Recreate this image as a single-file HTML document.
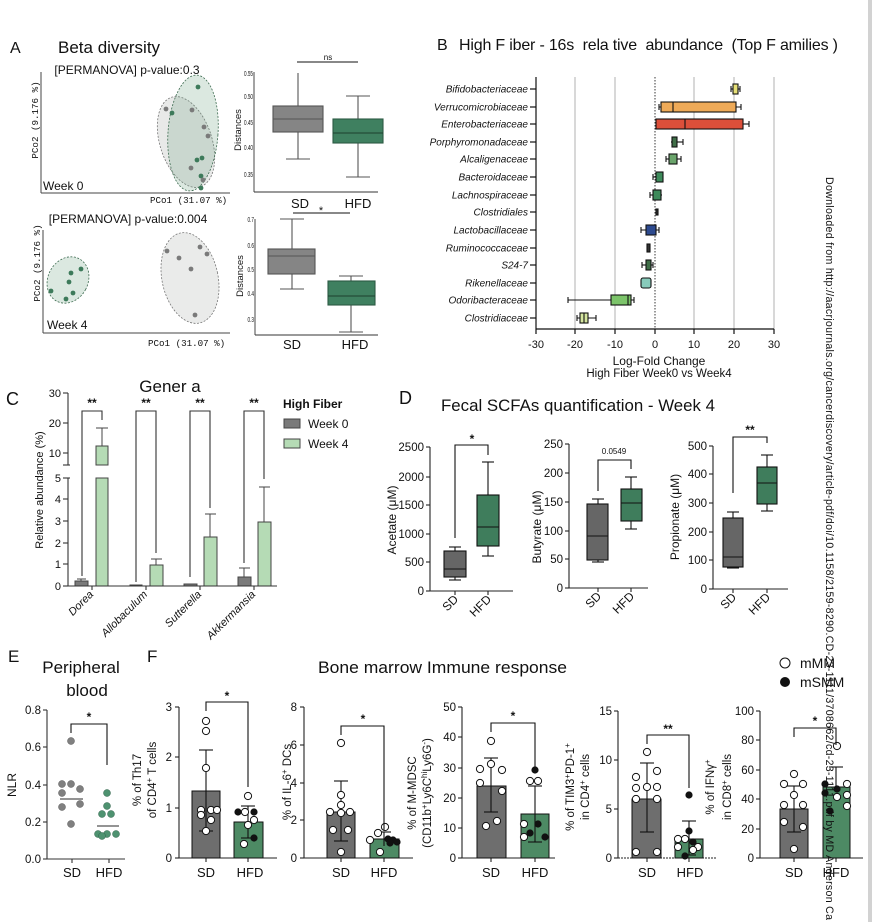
<!DOCTYPE html>
<html><head><meta charset="utf-8">
<style>
html,body{margin:0;padding:0;background:#fff;overflow:hidden;width:872px;height:922px;}
svg{display:block;}
text{font-family:"Liberation Sans",Arial,sans-serif;fill:#111;}
.mono{font-family:"Liberation Mono",monospace;}
</style></head>
<body>
<svg width="872" height="922" viewBox="0 0 872 922" xmlns="http://www.w3.org/2000/svg">
<rect width="872" height="922" fill="#fff"/>
<rect x="868" y="0" width="4" height="922" fill="#d2d2d2"/>

<!-- ===== Panel A ===== -->
<text x="10" y="53" font-size="16">A</text>
<text x="58" y="53" font-size="17">Beta diversity</text>
<text x="127" y="74" font-size="12" text-anchor="middle">[PERMANOVA] p-value:0.3</text>
<g stroke="#444" stroke-width="1">
<line x1="41" y1="72" x2="41" y2="193"/><line x1="41" y1="193" x2="230" y2="193"/>
</g>
<text class="mono" font-size="9.2" transform="translate(38,120) rotate(-90)" text-anchor="middle">PCo2 (9.176 %)</text>
<text x="43" y="190" font-size="12">Week 0</text>
<text class="mono" x="150" y="203" font-size="9.2">PCo1 (31.07 %)</text>
<ellipse cx="186" cy="142" rx="26" ry="47" transform="rotate(-18 186 142)" fill="rgba(150,155,150,0.22)" stroke="#777" stroke-dasharray="2,1.5" stroke-width="0.8"/>
<ellipse cx="193" cy="133" rx="25" ry="58" transform="rotate(4 193 133)" fill="rgba(110,165,130,0.25)" stroke="#3d6b50" stroke-dasharray="2,1.5" stroke-width="0.8"/>
<g fill="#3d7a5a"><circle cx="198" cy="87" r="2.4"/><circle cx="172" cy="113" r="2.4"/><circle cx="197" cy="160" r="2.4"/><circle cx="202" cy="158" r="2.4"/><circle cx="201" cy="176" r="2.4"/><circle cx="201" cy="188" r="2.4"/></g>
<g fill="#7a7a7a"><circle cx="166" cy="109" r="2.4"/><circle cx="192" cy="110" r="2.4"/><circle cx="204" cy="127" r="2.4"/><circle cx="208" cy="136" r="2.4"/><circle cx="191" cy="168" r="2.4"/><circle cx="203" cy="180" r="2.4"/></g>

<text x="128" y="223" font-size="12" text-anchor="middle">[PERMANOVA] p-value:0.004</text>
<g stroke="#444" stroke-width="1">
<line x1="43" y1="230" x2="43" y2="333"/><line x1="43" y1="333" x2="230" y2="333"/>
</g>
<text class="mono" font-size="9.2" transform="translate(40,263) rotate(-90)" text-anchor="middle">PCo2 (9.176 %)</text>
<text x="47" y="329" font-size="12">Week 4</text>
<text class="mono" x="148" y="346" font-size="9.2">PCo1 (31.07 %)</text>
<ellipse cx="68" cy="280" rx="20" ry="24" transform="rotate(28 68 280)" fill="rgba(110,165,130,0.25)" stroke="#3d6b50" stroke-dasharray="2,1.5" stroke-width="0.8"/>
<ellipse cx="190" cy="278" rx="28" ry="46" transform="rotate(-12 190 278)" fill="rgba(150,155,150,0.2)" stroke="#777" stroke-dasharray="2,1.5" stroke-width="0.8"/>
<g fill="#3d7a5a"><circle cx="81" cy="269" r="2.4"/><circle cx="71" cy="273" r="2.4"/><circle cx="69" cy="282" r="2.4"/><circle cx="51" cy="291" r="2.4"/><circle cx="73" cy="293" r="2.4"/><circle cx="66" cy="299" r="2.4"/></g>
<g fill="#7a7a7a"><circle cx="167" cy="251" r="2.4"/><circle cx="179" cy="258" r="2.4"/><circle cx="200" cy="247" r="2.4"/><circle cx="207" cy="254" r="2.4"/><circle cx="191" cy="269" r="2.4"/><circle cx="195" cy="315" r="2.4"/></g>

<!-- A boxplot top -->
<g stroke="#333" stroke-width="0.9"><line x1="254" y1="72" x2="254" y2="192"/><line x1="254" y1="192" x2="378" y2="192"/></g>
<g font-size="7" text-anchor="end"><text x="253" y="76" textLength="9" lengthAdjust="spacingAndGlyphs">0.55</text><text x="253" y="99" textLength="9" lengthAdjust="spacingAndGlyphs">0.50</text><text x="253" y="125" textLength="9" lengthAdjust="spacingAndGlyphs">0.45</text><text x="253" y="150" textLength="9" lengthAdjust="spacingAndGlyphs">0.40</text><text x="253" y="177" textLength="9" lengthAdjust="spacingAndGlyphs">0.35</text></g>
<text font-size="9.5" transform="translate(241,130) rotate(-90)" text-anchor="middle">Distances</text>
<g stroke="#555" stroke-width="1.1">
<line x1="298" y1="73" x2="298" y2="106"/><line x1="298" y1="132" x2="298" y2="159"/>
<line x1="286" y1="159" x2="310" y2="159"/>
<rect x="273" y="106" width="50" height="26" fill="#858585"/>
<line x1="273" y1="119" x2="323" y2="119"/>
<line x1="358" y1="96" x2="358" y2="119"/><line x1="358" y1="143" x2="358" y2="177"/>
<line x1="346" y1="96" x2="370" y2="96"/><line x1="346" y1="177" x2="370" y2="177"/>
<rect x="333" y="119" width="50" height="24" fill="#3f8060" stroke="#2d5a44"/>
<line x1="333" y1="133" x2="383" y2="133" stroke="#1e3f2e"/>
</g>
<line x1="297" y1="62" x2="358" y2="62" stroke="#111" stroke-width="0.9"/>
<text x="328" y="60" font-size="8" text-anchor="middle">ns</text>
<text x="300" y="208" font-size="13" text-anchor="middle">SD</text>
<text x="358" y="208" font-size="13" text-anchor="middle">HFD</text>

<!-- A boxplot bottom -->
<g stroke="#333" stroke-width="0.9"><line x1="255" y1="219" x2="255" y2="335"/><line x1="255" y1="335" x2="378" y2="335"/></g>
<g font-size="7" text-anchor="end"><text x="254" y="222" textLength="6.5" lengthAdjust="spacingAndGlyphs">0.7</text><text x="254" y="248" textLength="6.5" lengthAdjust="spacingAndGlyphs">0.6</text><text x="254" y="272" textLength="6.5" lengthAdjust="spacingAndGlyphs">0.5</text><text x="254" y="296" textLength="6.5" lengthAdjust="spacingAndGlyphs">0.4</text><text x="254" y="322" textLength="6.5" lengthAdjust="spacingAndGlyphs">0.3</text></g>
<text font-size="9.5" transform="translate(243,276) rotate(-90)" text-anchor="middle">Distances</text>
<g stroke="#555" stroke-width="1.1">
<line x1="292" y1="219" x2="292" y2="249"/><line x1="292" y1="274" x2="292" y2="289"/>
<line x1="280" y1="219" x2="304" y2="219"/><line x1="280" y1="289" x2="304" y2="289"/>
<rect x="268" y="249" width="47" height="25" fill="#858585"/>
<line x1="268" y1="256" x2="315" y2="256"/>
<line x1="351" y1="276" x2="351" y2="281"/><line x1="351" y1="305" x2="351" y2="332"/>
<line x1="339" y1="276" x2="363" y2="276"/><line x1="339" y1="332" x2="363" y2="332"/>
<rect x="328" y="281" width="47" height="24" fill="#3f8060" stroke="#2d5a44"/>
<line x1="328" y1="296" x2="375" y2="296" stroke="#1e3f2e"/>
</g>
<line x1="293" y1="213" x2="350" y2="213" stroke="#111" stroke-width="0.9"/>
<text x="321" y="214" font-size="11" text-anchor="middle">*</text>
<text x="292" y="349" font-size="13" text-anchor="middle">SD</text>
<text x="355" y="349" font-size="13" text-anchor="middle">HFD</text>

<!-- ===== Panel B ===== -->
<text x="437" y="50" font-size="16">B</text>
<text x="459" y="50" font-size="16" textLength="379" lengthAdjust="spacing" xml:space="preserve">High F iber - 16s  rela tive  abundance  (Top F amilies )</text>
<g stroke="#b0b0b0" stroke-width="1">
<line x1="575" y1="77" x2="575" y2="329"/><line x1="615" y1="77" x2="615" y2="329"/>
<line x1="694" y1="77" x2="694" y2="329"/><line x1="734" y1="77" x2="734" y2="329"/>
<line x1="774" y1="77" x2="774" y2="329"/>
</g>
<line x1="655" y1="77" x2="655" y2="329" stroke="#222" stroke-width="0.9" stroke-dasharray="1.5,1.5"/>
<g stroke="#111" stroke-width="1.2">
<line x1="536" y1="77" x2="536" y2="329"/><line x1="536" y1="329" x2="774" y2="329"/>
<line x1="536" y1="329" x2="536" y2="334"/><line x1="575" y1="329" x2="575" y2="334"/><line x1="615" y1="329" x2="615" y2="334"/><line x1="655" y1="329" x2="655" y2="334"/><line x1="694" y1="329" x2="694" y2="334"/><line x1="734" y1="329" x2="734" y2="334"/><line x1="774" y1="329" x2="774" y2="334"/>
<line x1="530" y1="89" x2="536" y2="89"/><line x1="530" y1="107" x2="536" y2="107"/><line x1="530" y1="124" x2="536" y2="124"/><line x1="530" y1="142" x2="536" y2="142"/><line x1="530" y1="159" x2="536" y2="159"/><line x1="530" y1="177" x2="536" y2="177"/><line x1="530" y1="195" x2="536" y2="195"/><line x1="530" y1="212" x2="536" y2="212"/><line x1="530" y1="230" x2="536" y2="230"/><line x1="530" y1="248" x2="536" y2="248"/><line x1="530" y1="265" x2="536" y2="265"/><line x1="530" y1="283" x2="536" y2="283"/><line x1="530" y1="300" x2="536" y2="300"/><line x1="530" y1="318" x2="536" y2="318"/>
</g>
<g font-size="10" font-style="italic" text-anchor="end" fill="#222">
<text x="528" y="92.5">Bifidobacteriaceae</text><text x="528" y="110.5">Verrucomicrobiaceae</text><text x="528" y="127.5">Enterobacteriaceae</text><text x="528" y="145.5">Porphyromonadaceae</text><text x="528" y="162.5">Alcaligenaceae</text><text x="528" y="180.5">Bacteroidaceae</text><text x="528" y="198.5">Lachnospiraceae</text><text x="528" y="215.5">Clostridiales</text><text x="528" y="233.5">Lactobacillaceae</text><text x="528" y="251.5">Ruminococcaceae</text><text x="528" y="268.5">S24-7</text><text x="528" y="286.5">Rikenellaceae</text><text x="528" y="303.5">Odoribacteraceae</text><text x="528" y="321.5">Clostridiaceae</text>
</g>
<g stroke="#111" stroke-width="1.1">
<line x1="731" y1="89" x2="740" y2="89"/><line x1="731" y1="86" x2="731" y2="92"/><line x1="740" y1="86" x2="740" y2="92"/>
<rect x="733" y="84" width="5" height="10" fill="#e6df77"/>
<line x1="659" y1="107" x2="741" y2="107"/><line x1="659" y1="104" x2="659" y2="110"/><line x1="741" y1="104" x2="741" y2="110"/>
<rect x="661" y="102" width="75" height="10" fill="#eeaa58"/><line x1="673" y1="102" x2="673" y2="112"/>
<line x1="743" y1="124" x2="749" y2="124"/><line x1="749" y1="121" x2="749" y2="127"/>
<rect x="656" y="119" width="87" height="10" fill="#dc4f3a"/><line x1="685" y1="119" x2="685" y2="129"/>
<line x1="671" y1="142" x2="683" y2="142"/><line x1="683" y1="139" x2="683" y2="145"/>
<rect x="672" y="137" width="5" height="10" fill="#3f6e47"/>
<line x1="666" y1="159" x2="681" y2="159"/><line x1="666" y1="156" x2="666" y2="162"/><line x1="681" y1="156" x2="681" y2="162"/>
<rect x="669" y="154" width="8" height="10" fill="#6aa46b"/>
<line x1="653" y1="177" x2="663" y2="177"/><line x1="653" y1="174" x2="653" y2="180"/>
<rect x="656" y="172" width="7" height="10" fill="#3d8a5a"/>
<line x1="650" y1="195" x2="662" y2="195"/><line x1="650" y1="192" x2="650" y2="198"/>
<rect x="653" y="190" width="8" height="10" fill="#3d8a5a"/>
<rect x="656" y="209" width="2" height="6" fill="#333"/>
<line x1="641" y1="230" x2="659" y2="230"/><line x1="641" y1="227" x2="641" y2="233"/><line x1="659" y1="227" x2="659" y2="233"/>
<rect x="646" y="225" width="10" height="10" fill="#2d4a8f"/>
<rect x="647" y="244" width="3" height="8" fill="#333"/>
<line x1="642" y1="265" x2="653" y2="265"/><line x1="642" y1="262" x2="642" y2="268"/><line x1="653" y1="262" x2="653" y2="268"/>
<rect x="646" y="260" width="5" height="10" fill="#3f6e47"/>
<rect x="641" y="278" width="10" height="10" rx="2" fill="#88cbbb"/>
<line x1="568" y1="300" x2="634" y2="300"/><line x1="568" y1="297" x2="568" y2="303"/><line x1="634" y1="297" x2="634" y2="303"/>
<rect x="611" y="295" width="20" height="10" fill="#7cc46a"/><line x1="628" y1="295" x2="628" y2="305"/>
<line x1="577" y1="318" x2="596" y2="318"/><line x1="577" y1="315" x2="577" y2="321"/><line x1="596" y1="315" x2="596" y2="321"/>
<rect x="580" y="313" width="8" height="10" fill="#d5e6a0"/><line x1="584" y1="313" x2="584" y2="323"/>
</g>
<g font-size="11" text-anchor="middle" fill="#222">
<text x="536" y="348">-30</text><text x="575" y="348">-20</text><text x="615" y="348">-10</text><text x="655" y="348">0</text><text x="694" y="348">10</text><text x="734" y="348">20</text><text x="774" y="348">30</text>
</g>
<text x="659" y="365" font-size="12" text-anchor="middle">Log-Fold Change</text>
<text x="659" y="377" font-size="11.5" text-anchor="middle">High Fiber Week0 vs Week4</text>

<!-- ===== Panel C ===== -->
<text x="6" y="405" font-size="18">C</text>
<text x="170" y="392" font-size="17" text-anchor="middle" xml:space="preserve">Gener a</text>
<g stroke="#333" stroke-width="1.1">
<line x1="68" y1="393" x2="68" y2="465"/><line x1="68" y1="478" x2="68" y2="586"/>
<line x1="63" y1="393" x2="68" y2="393"/><line x1="63" y1="423" x2="68" y2="423"/><line x1="63" y1="453" x2="68" y2="453"/><line x1="63" y1="465" x2="70" y2="465"/>
<line x1="63" y1="478" x2="70" y2="478"/><line x1="63" y1="499" x2="68" y2="499"/><line x1="63" y1="521" x2="68" y2="521"/><line x1="63" y1="543" x2="68" y2="543"/><line x1="63" y1="564" x2="68" y2="564"/><line x1="63" y1="586" x2="68" y2="586"/>
</g>
<g font-size="11" text-anchor="end" fill="#222">
<text x="61" y="397">30</text><text x="61" y="427">20</text><text x="61" y="457">10</text><text x="61" y="482">5</text><text x="61" y="503">4</text><text x="61" y="525">3</text><text x="61" y="547">2</text><text x="61" y="568">1</text><text x="61" y="590">0</text>
</g>
<text font-size="11" transform="translate(43,490) rotate(-90)" text-anchor="middle">Relative abundance (%)</text>
<g stroke="#444" stroke-width="1">
<line x1="81" y1="579" x2="81" y2="582"/><line x1="77" y1="579" x2="86" y2="579"/>
<line x1="102" y1="428" x2="102" y2="446"/><line x1="96" y1="428" x2="108" y2="428"/>
<line x1="156" y1="559" x2="156" y2="565"/><line x1="151" y1="559" x2="162" y2="559"/>
<line x1="210" y1="514" x2="210" y2="537"/><line x1="205" y1="514" x2="216" y2="514"/>
<line x1="244" y1="568" x2="244" y2="577"/><line x1="239" y1="568" x2="250" y2="568"/>
<line x1="264" y1="487" x2="264" y2="522"/><line x1="259" y1="487" x2="270" y2="487"/>
</g>
<g stroke="#444" stroke-width="1">
<rect x="75" y="581" width="13" height="5" fill="#7a7a7a"/>
<rect x="96" y="478" width="12" height="108" fill="#b5dbb5"/>
<rect x="96" y="446" width="12" height="19" fill="#b5dbb5"/>
<rect x="130" y="585" width="12" height="1" fill="#7a7a7a"/>
<rect x="150" y="565" width="13" height="21" fill="#b5dbb5"/>
<rect x="184" y="584" width="13" height="2" fill="#7a7a7a"/>
<rect x="204" y="537" width="13" height="49" fill="#b5dbb5"/>
<rect x="238" y="577" width="13" height="9" fill="#7a7a7a"/>
<rect x="258" y="522" width="13" height="64" fill="#b5dbb5"/>
</g>
<g stroke="#333" stroke-width="1.1">
<line x1="68" y1="586" x2="277" y2="586"/>
<line x1="92" y1="586" x2="92" y2="590"/><line x1="146" y1="586" x2="146" y2="590"/><line x1="200" y1="586" x2="200" y2="590"/><line x1="254" y1="586" x2="254" y2="590"/>
</g>
<g stroke="#333" stroke-width="1.1" fill="none">
<polyline points="82,576 82,411 102,411 102,420"/>
<polyline points="136,582 136,411 156,411 156,553"/>
<polyline points="190,577 190,411 210,411 210,508"/>
<polyline points="244,563 244,411 264,411 264,479"/>
</g>
<g font-size="12" font-weight="bold" text-anchor="middle">
<text x="92" y="407">**</text><text x="146" y="407">**</text><text x="200" y="407">**</text><text x="254" y="407">**</text>
</g>
<g font-size="11" font-style="italic" text-anchor="end">
<text transform="translate(94,595) rotate(-45)">Dorea</text>
<text transform="translate(148,595) rotate(-45)">Allobaculum</text>
<text transform="translate(202,595) rotate(-45)">Sutterella</text>
<text transform="translate(256,595) rotate(-45)">Akkermansia</text>
</g>
<text x="283" y="408" font-size="12" font-weight="bold">High Fiber</text>
<rect x="284" y="419" width="16" height="9" fill="#7a7a7a" stroke="#444"/>
<text x="308" y="428" font-size="12">Week 0</text>
<rect x="284" y="439" width="16" height="9" fill="#b5dbb5" stroke="#444"/>
<text x="308" y="448" font-size="12">Week 4</text>

<!-- ===== Panel D ===== -->
<text x="399" y="404" font-size="18">D</text>
<text x="441" y="411" font-size="17" textLength="274" lengthAdjust="spacingAndGlyphs">Fecal SCFAs quantification - Week 4</text>
<g stroke="#222" stroke-width="1.1">
<line x1="430" y1="447" x2="430" y2="591"/><line x1="430" y1="591" x2="513" y2="591"/>
<line x1="426" y1="447" x2="430" y2="447"/><line x1="426" y1="477" x2="430" y2="477"/><line x1="426" y1="505" x2="430" y2="505"/><line x1="426" y1="534" x2="430" y2="534"/><line x1="426" y1="562" x2="430" y2="562"/><line x1="426" y1="591" x2="430" y2="591"/>
<line x1="455" y1="591" x2="455" y2="595"/><line x1="488" y1="591" x2="488" y2="595"/>
</g>
<g font-size="11.5" text-anchor="end"><text x="424" y="451">2500</text><text x="424" y="481">2000</text><text x="424" y="509">1500</text><text x="424" y="538">1000</text><text x="424" y="566">500</text><text x="424" y="595">0</text></g>
<text font-size="12" transform="translate(396,520) rotate(-90)" text-anchor="middle">Acetate (μM)</text>
<g stroke="#111" stroke-width="1.1">
<line x1="455" y1="547" x2="455" y2="580"/><line x1="449" y1="547" x2="461" y2="547"/><line x1="449" y1="580" x2="461" y2="580"/>
<rect x="444" y="551" width="22" height="26" fill="#666"/><line x1="444" y1="569" x2="466" y2="569"/>
<line x1="488" y1="462" x2="488" y2="556"/><line x1="482" y1="462" x2="494" y2="462"/><line x1="482" y1="556" x2="494" y2="556"/>
<rect x="477" y="495" width="22" height="51" fill="#3f7d5c"/><line x1="477" y1="527" x2="499" y2="527"/>
<polyline points="455,538 455,445 488,445 488,455" fill="none"/>
</g>
<text x="472" y="443" font-size="12" font-weight="bold" text-anchor="middle">*</text>
<g font-size="12" text-anchor="end"><text transform="translate(459,600) rotate(-45)">SD</text><text transform="translate(492,600) rotate(-45)">HFD</text></g>
<g stroke="#222" stroke-width="1.1">
<line x1="569" y1="444" x2="569" y2="588"/><line x1="569" y1="588" x2="648" y2="588"/>
<line x1="565" y1="444" x2="569" y2="444"/><line x1="565" y1="473" x2="569" y2="473"/><line x1="565" y1="502" x2="569" y2="502"/><line x1="565" y1="531" x2="569" y2="531"/><line x1="565" y1="559" x2="569" y2="559"/><line x1="565" y1="588" x2="569" y2="588"/>
<line x1="598" y1="588" x2="598" y2="592"/><line x1="631" y1="588" x2="631" y2="592"/>
</g>
<g font-size="11.5" text-anchor="end"><text x="563" y="448">250</text><text x="563" y="477">200</text><text x="563" y="506">150</text><text x="563" y="535">100</text><text x="563" y="563">50</text><text x="563" y="592">0</text></g>
<text font-size="12" transform="translate(541,527) rotate(-90)" text-anchor="middle">Butyrate (μM)</text>
<g stroke="#111" stroke-width="1.1">
<line x1="598" y1="499" x2="598" y2="562"/><line x1="592" y1="499" x2="604" y2="499"/><line x1="592" y1="562" x2="604" y2="562"/>
<rect x="587" y="504" width="21" height="56" fill="#666"/><line x1="587" y1="536" x2="608" y2="536"/>
<line x1="631" y1="477" x2="631" y2="529"/><line x1="625" y1="477" x2="637" y2="477"/><line x1="625" y1="529" x2="637" y2="529"/>
<rect x="621" y="489" width="21" height="32" fill="#3f7d5c"/><line x1="621" y1="503" x2="642" y2="503"/>
<polyline points="598,491 598,460 631,460 631,469" fill="none"/>
</g>
<text x="614" y="454" font-size="8" text-anchor="middle">0.0549</text>
<g font-size="12" text-anchor="end"><text transform="translate(602,597) rotate(-45)">SD</text><text transform="translate(635,597) rotate(-45)">HFD</text></g>
<g stroke="#222" stroke-width="1.1">
<line x1="713" y1="446" x2="713" y2="589"/><line x1="713" y1="589" x2="788" y2="589"/>
<line x1="709" y1="446" x2="713" y2="446"/><line x1="709" y1="474" x2="713" y2="474"/><line x1="709" y1="503" x2="713" y2="503"/><line x1="709" y1="532" x2="713" y2="532"/><line x1="709" y1="560" x2="713" y2="560"/><line x1="709" y1="589" x2="713" y2="589"/>
<line x1="733" y1="589" x2="733" y2="593"/><line x1="767" y1="589" x2="767" y2="593"/>
</g>
<g font-size="11.5" text-anchor="end"><text x="707" y="450">500</text><text x="707" y="478">400</text><text x="707" y="507">300</text><text x="707" y="536">200</text><text x="707" y="564">100</text><text x="707" y="593">0</text></g>
<text font-size="12" transform="translate(679,517) rotate(-90)" text-anchor="middle">Propionate (μM)</text>
<g stroke="#111" stroke-width="1.1">
<line x1="733" y1="512" x2="733" y2="568"/><line x1="727" y1="512" x2="739" y2="512"/><line x1="727" y1="568" x2="739" y2="568"/>
<rect x="723" y="518" width="20" height="49" fill="#666"/><line x1="723" y1="557" x2="743" y2="557"/>
<line x1="767" y1="455" x2="767" y2="511"/><line x1="761" y1="455" x2="773" y2="455"/><line x1="761" y1="511" x2="773" y2="511"/>
<rect x="757" y="467" width="20" height="37" fill="#3f7d5c"/><line x1="757" y1="483" x2="777" y2="483"/>
<polyline points="733,493 733,437 767,437 767,443" fill="none"/>
</g>
<text x="750" y="434" font-size="12" font-weight="bold" text-anchor="middle">**</text>
<g font-size="12" text-anchor="end"><text transform="translate(737,598) rotate(-45)">SD</text><text transform="translate(771,598) rotate(-45)">HFD</text></g>

<!-- ===== Panel E ===== -->
<text x="8" y="662" font-size="17">E</text>
<text x="81" y="673" font-size="17" text-anchor="middle">Peripheral</text>
<text x="87" y="696" font-size="17" text-anchor="middle">blood</text>
<g stroke="#333" stroke-width="1.1">
<line x1="47" y1="710" x2="47" y2="859"/><line x1="47" y1="859" x2="125" y2="859"/>
<line x1="43" y1="710" x2="47" y2="710"/><line x1="43" y1="747" x2="47" y2="747"/><line x1="43" y1="785" x2="47" y2="785"/><line x1="43" y1="822" x2="47" y2="822"/><line x1="43" y1="859" x2="47" y2="859"/>
<line x1="72" y1="859" x2="72" y2="863"/><line x1="109" y1="859" x2="109" y2="863"/>
</g>
<g font-size="11.5" text-anchor="end"><text x="41" y="714">0.8</text><text x="41" y="751">0.6</text><text x="41" y="789">0.4</text><text x="41" y="826">0.2</text><text x="41" y="863">0.0</text></g>
<text font-size="12" transform="translate(16,785) rotate(-90)" text-anchor="middle">NLR</text>
<g fill="#808080" stroke="#555" stroke-width="0.5">
<circle cx="71" cy="741" r="3.5"/><circle cx="62" cy="784" r="3.5"/><circle cx="71" cy="784" r="3.5"/><circle cx="80" cy="789" r="3.5"/><circle cx="62" cy="793" r="3.5"/><circle cx="80" cy="804" r="3.5"/><circle cx="62" cy="807" r="3.5"/><circle cx="71" cy="824" r="3.5"/>
</g>
<g fill="#4e9270" stroke="#2f6249" stroke-width="0.5">
<circle cx="107" cy="793" r="3.5"/><circle cx="107" cy="806" r="3.5"/><circle cx="102" cy="814" r="3.5"/><circle cx="111" cy="814" r="3.5"/><circle cx="98" cy="834" r="3.5"/><circle cx="107" cy="834" r="3.5"/><circle cx="116" cy="834" r="3.5"/><circle cx="102" cy="836" r="3.5"/>
</g>
<g stroke="#555" stroke-width="1.2"><line x1="60" y1="799" x2="83" y2="799"/><line x1="97" y1="826" x2="119" y2="826"/></g>
<polyline points="71,733 71,724 107,724 107,765" fill="none" stroke="#111" stroke-width="1.1"/>
<text x="89" y="721" font-size="12" font-weight="bold" text-anchor="middle">*</text>
<text x="72" y="877" font-size="13" text-anchor="middle">SD</text>
<text x="109" y="877" font-size="13" text-anchor="middle">HFD</text>

<!-- ===== Panel F ===== -->
<text x="147" y="662" font-size="17">F</text>
<text x="318" y="673" font-size="17" textLength="249" lengthAdjust="spacingAndGlyphs">Bone marrow Immune response</text>

<!-- F1 -->
<g stroke="#222" stroke-width="1.1">
<line x1="179" y1="707" x2="179" y2="858"/><line x1="179" y1="858" x2="277" y2="858"/>
<line x1="175" y1="707" x2="179" y2="707"/><line x1="175" y1="757" x2="179" y2="757"/><line x1="175" y1="808" x2="179" y2="808"/><line x1="175" y1="858" x2="179" y2="858"/>
<line x1="206" y1="858" x2="206" y2="862"/><line x1="248" y1="858" x2="248" y2="862"/>
</g>
<g font-size="11.5" text-anchor="end"><text x="172" y="711">3</text><text x="172" y="761">2</text><text x="172" y="812">1</text><text x="172" y="862">0</text></g>
<text font-size="11.5" transform="translate(141,780) rotate(-90)" text-anchor="middle">% of Th17</text>
<text font-size="11.5" transform="translate(156,780) rotate(-90)" text-anchor="middle">of CD4<tspan font-size="8" dy="-4">+</tspan><tspan dy="4"> T cells</tspan></text>
<rect x="192" y="791" width="28" height="67" fill="#6e6e6e" stroke="#111"/>
<rect x="234" y="822" width="29" height="36" fill="#4d8a64" stroke="#111"/>
<g stroke="#111" stroke-width="1.1">
<line x1="206" y1="750" x2="206" y2="831"/><line x1="199" y1="750" x2="213" y2="750"/><line x1="199" y1="831" x2="213" y2="831"/>
<line x1="248" y1="806" x2="248" y2="838"/><line x1="241" y1="806" x2="255" y2="806"/><line x1="241" y1="838" x2="255" y2="838"/>
</g>
<g fill="#fff" stroke="#111" stroke-width="1">
<circle cx="206" cy="721" r="3.6"/><circle cx="206" cy="731" r="3.6"/><circle cx="206" cy="768" r="3.6"/><circle cx="201" cy="810" r="3.6"/><circle cx="211" cy="810" r="3.6"/><circle cx="217" cy="810" r="3.6"/><circle cx="201" cy="815" r="3.6"/><circle cx="211" cy="820" r="3.6"/><circle cx="206" cy="831" r="3.6"/>
<circle cx="248" cy="796" r="3.6"/><circle cx="254" cy="820" r="3.6"/><circle cx="248" cy="825" r="3.6"/><circle cx="244" cy="844" r="3.6"/><circle cx="245" cy="812" r="3.6"/>
</g>
<g fill="#111"><circle cx="238" cy="812" r="3.6"/><circle cx="254" cy="812" r="3.6"/><circle cx="254" cy="838" r="3.6"/></g>
<polyline points="206,711 206,702 248,702 248,787" fill="none" stroke="#111" stroke-width="1.1"/>
<text x="227" y="700" font-size="12" font-weight="bold" text-anchor="middle">*</text>
<text x="206" y="877" font-size="13" text-anchor="middle">SD</text>
<text x="250" y="877" font-size="13" text-anchor="middle">HFD</text>

<!-- F2 -->
<g stroke="#222" stroke-width="1.1">
<line x1="304" y1="707" x2="304" y2="858"/><line x1="304" y1="858" x2="413" y2="858"/>
<line x1="300" y1="707" x2="304" y2="707"/><line x1="300" y1="745" x2="304" y2="745"/><line x1="300" y1="783" x2="304" y2="783"/><line x1="300" y1="820" x2="304" y2="820"/><line x1="300" y1="858" x2="304" y2="858"/>
<line x1="341" y1="858" x2="341" y2="862"/><line x1="384" y1="858" x2="384" y2="862"/>
</g>
<g font-size="11.5" text-anchor="end"><text x="297" y="711">8</text><text x="297" y="749">6</text><text x="297" y="787">4</text><text x="297" y="824">2</text><text x="297" y="862">0</text></g>
<text font-size="11.5" transform="translate(291,782) rotate(-90)" text-anchor="middle">% of IL-6<tspan font-size="8" dy="-4">+</tspan><tspan dy="4"> DCs</tspan></text>
<rect x="327" y="812" width="28" height="46" fill="#6e6e6e" stroke="#111"/>
<rect x="370" y="839" width="29" height="19" fill="#4d8a64" stroke="#111"/>
<g stroke="#111" stroke-width="1.1">
<line x1="341" y1="781" x2="341" y2="841"/><line x1="334" y1="781" x2="348" y2="781"/><line x1="334" y1="841" x2="348" y2="841"/>
<line x1="384" y1="832" x2="384" y2="846"/><line x1="377" y1="832" x2="391" y2="832"/>
</g>
<g fill="#fff" stroke="#111" stroke-width="1">
<circle cx="341" cy="743" r="3.6"/><circle cx="341" cy="795" r="3.6"/><circle cx="341" cy="805" r="3.6"/><circle cx="330" cy="812" r="3.6"/><circle cx="350" cy="812" r="3.6"/><circle cx="341" cy="813" r="3.6"/><circle cx="333" cy="830" r="3.6"/><circle cx="348" cy="830" r="3.6"/><circle cx="341" cy="852" r="3.6"/>
<circle cx="385" cy="827" r="3.6"/><circle cx="378" cy="833" r="3.6"/><circle cx="370" cy="840" r="3.6"/><circle cx="380" cy="852" r="3.6"/>
</g>
<g fill="#111"><circle cx="388" cy="839" r="3.6"/><circle cx="393" cy="840" r="3.6"/><circle cx="397" cy="842" r="3.6"/><circle cx="390" cy="843" r="3.6"/></g>
<polyline points="341,735 341,726 384,726 384,830" fill="none" stroke="#111" stroke-width="1.1"/>
<text x="363" y="723" font-size="12" font-weight="bold" text-anchor="middle">*</text>
<text x="341" y="877" font-size="13" text-anchor="middle">SD</text>
<text x="384" y="877" font-size="13" text-anchor="middle">HFD</text>

<!-- F3 -->
<g stroke="#222" stroke-width="1.1">
<line x1="462" y1="707" x2="462" y2="858"/><line x1="462" y1="858" x2="555" y2="858"/>
<line x1="458" y1="707" x2="462" y2="707"/><line x1="458" y1="737" x2="462" y2="737"/><line x1="458" y1="768" x2="462" y2="768"/><line x1="458" y1="798" x2="462" y2="798"/><line x1="458" y1="828" x2="462" y2="828"/><line x1="458" y1="858" x2="462" y2="858"/>
<line x1="491" y1="858" x2="491" y2="862"/><line x1="535" y1="858" x2="535" y2="862"/>
</g>
<g font-size="11.5" text-anchor="end"><text x="456" y="711">50</text><text x="456" y="741">40</text><text x="456" y="772">30</text><text x="456" y="802">20</text><text x="456" y="832">10</text><text x="456" y="862">0</text></g>
<text font-size="11.5" transform="translate(416,793) rotate(-90)" text-anchor="middle">% of M-MDSC</text>
<text font-size="11.5" transform="translate(431,793) rotate(-90)" text-anchor="middle">(CD11b<tspan font-size="8" dy="-4">+</tspan><tspan dy="4">Ly6C</tspan><tspan font-size="8" dy="-4">hi</tspan><tspan dy="4">Ly6G</tspan><tspan font-size="8" dy="-4">-</tspan><tspan dy="4">)</tspan></text>
<rect x="477" y="786" width="29" height="72" fill="#6e6e6e" stroke="#111"/>
<rect x="521" y="814" width="28" height="44" fill="#4d8a64" stroke="#111"/>
<g stroke="#111" stroke-width="1.1">
<line x1="491" y1="758" x2="491" y2="812"/><line x1="484" y1="758" x2="498" y2="758"/><line x1="484" y1="812" x2="498" y2="812"/>
<line x1="535" y1="786" x2="535" y2="842"/><line x1="528" y1="786" x2="542" y2="786"/><line x1="528" y1="842" x2="542" y2="842"/>
</g>
<g fill="#fff" stroke="#111" stroke-width="1">
<circle cx="491" cy="741" r="3.6"/><circle cx="491" cy="764" r="3.6"/><circle cx="480" cy="769" r="3.6"/><circle cx="502" cy="770" r="3.6"/><circle cx="480" cy="783" r="3.6"/><circle cx="502" cy="791" r="3.6"/><circle cx="497" cy="821" r="3.6"/><circle cx="486" cy="826" r="3.6"/>
<circle cx="530" cy="781" r="3.6"/><circle cx="538" cy="781" r="3.6"/><circle cx="524" cy="824" r="3.6"/><circle cx="524" cy="837" r="3.6"/>
</g>
<g fill="#111"><circle cx="535" cy="770" r="3.6"/><circle cx="538" cy="824" r="3.6"/><circle cx="530" cy="833" r="3.6"/><circle cx="545" cy="837" r="3.6"/></g>
<polyline points="491,732 491,723 535,723 535,767" fill="none" stroke="#111" stroke-width="1.1"/>
<text x="513" y="720" font-size="12" font-weight="bold" text-anchor="middle">*</text>
<text x="491" y="877" font-size="13" text-anchor="middle">SD</text>
<text x="535" y="877" font-size="13" text-anchor="middle">HFD</text>

<!-- F4 -->
<g stroke="#222" stroke-width="1.1">
<line x1="618" y1="711" x2="618" y2="858"/>
<line x1="614" y1="711" x2="618" y2="711"/><line x1="614" y1="760" x2="618" y2="760"/><line x1="614" y1="809" x2="618" y2="809"/><line x1="614" y1="858" x2="618" y2="858"/>
<line x1="647" y1="858" x2="647" y2="862"/><line x1="689" y1="858" x2="689" y2="862"/>
</g>
<line x1="618" y1="858" x2="717" y2="858" stroke="#222" stroke-width="1.1" stroke-dasharray="2,1"/>
<g font-size="11.5" text-anchor="end"><text x="612" y="715">15</text><text x="612" y="764">10</text><text x="612" y="813">5</text><text x="612" y="862">0</text></g>
<text font-size="11.5" transform="translate(574,787) rotate(-90)" text-anchor="middle">% of TIM3<tspan font-size="8" dy="-4">+</tspan><tspan dy="4">PD-1</tspan><tspan font-size="8" dy="-4">+</tspan></text>
<text font-size="11.5" transform="translate(589,787) rotate(-90)" text-anchor="middle">in CD4<tspan font-size="8" dy="-4">+</tspan><tspan dy="4"> cells</tspan></text>
<rect x="632" y="799" width="29" height="59" fill="#6e6e6e" stroke="#111"/>
<rect x="675" y="839" width="28" height="19" fill="#4d8a64" stroke="#111"/>
<g stroke="#111" stroke-width="1.1">
<line x1="647" y1="763" x2="647" y2="832"/><line x1="640" y1="763" x2="654" y2="763"/><line x1="640" y1="832" x2="654" y2="832"/>
<line x1="689" y1="821" x2="689" y2="855"/><line x1="682" y1="821" x2="696" y2="821"/><line x1="682" y1="855" x2="696" y2="855"/>
</g>
<g fill="#fff" stroke="#111" stroke-width="1">
<circle cx="647" cy="752" r="3.6"/><circle cx="636" cy="777" r="3.6"/><circle cx="657" cy="771" r="3.6"/><circle cx="636" cy="788" r="3.6"/><circle cx="647" cy="787" r="3.6"/><circle cx="657" cy="787" r="3.6"/><circle cx="636" cy="799" r="3.6"/><circle cx="657" cy="799" r="3.6"/><circle cx="636" cy="852" r="3.6"/><circle cx="657" cy="852" r="3.6"/>
<circle cx="678" cy="839" r="3.6"/><circle cx="685" cy="839" r="3.6"/><circle cx="678" cy="847" r="3.6"/><circle cx="698" cy="847" r="3.6"/><circle cx="693" cy="850" r="3.6"/>
</g>
<g fill="#111"><circle cx="689" cy="795" r="3.6"/><circle cx="689" cy="831" r="3.6"/><circle cx="693" cy="842" r="3.6"/><circle cx="685" cy="856" r="3.6"/></g>
<polyline points="647,744 647,735 689,735 689,788" fill="none" stroke="#111" stroke-width="1.1"/>
<text x="668" y="733" font-size="12" font-weight="bold" text-anchor="middle">**</text>
<text x="647" y="877" font-size="13" text-anchor="middle">SD</text>
<text x="690" y="877" font-size="13" text-anchor="middle">HFD</text>

<!-- F5 -->
<g stroke="#222" stroke-width="1.1">
<line x1="760" y1="711" x2="760" y2="858"/><line x1="760" y1="858" x2="863" y2="858"/>
<line x1="756" y1="711" x2="760" y2="711"/><line x1="756" y1="740" x2="760" y2="740"/><line x1="756" y1="770" x2="760" y2="770"/><line x1="756" y1="799" x2="760" y2="799"/><line x1="756" y1="829" x2="760" y2="829"/><line x1="756" y1="858" x2="760" y2="858"/>
<line x1="794" y1="858" x2="794" y2="862"/><line x1="836" y1="858" x2="836" y2="862"/>
</g>
<g font-size="11.5" text-anchor="end"><text x="754" y="715">100</text><text x="754" y="744">80</text><text x="754" y="774">60</text><text x="754" y="803">40</text><text x="754" y="833">20</text><text x="754" y="862">0</text></g>
<text font-size="11.5" transform="translate(714,787) rotate(-90)" text-anchor="middle">% of IFNγ<tspan font-size="8" dy="-4">+</tspan></text>
<text font-size="11.5" transform="translate(731,787) rotate(-90)" text-anchor="middle">in CD8<tspan font-size="8" dy="-4">+</tspan><tspan dy="4"> cells</tspan></text>
<rect x="780" y="809" width="28" height="49" fill="#6e6e6e" stroke="#111"/>
<rect x="823" y="787" width="27" height="71" fill="#4d8a64" stroke="#111"/>
<g stroke="#111" stroke-width="1.1">
<line x1="794" y1="786" x2="794" y2="832"/><line x1="787" y1="786" x2="801" y2="786"/><line x1="787" y1="832" x2="801" y2="832"/>
<line x1="836" y1="767" x2="836" y2="787"/><line x1="829" y1="767" x2="843" y2="767"/>
</g>
<g fill="#fff" stroke="#111" stroke-width="1">
<circle cx="794" cy="774" r="3.6"/><circle cx="784" cy="784" r="3.6"/><circle cx="803" cy="784" r="3.6"/><circle cx="794" cy="795" r="3.6"/><circle cx="784" cy="805" r="3.6"/><circle cx="803" cy="805" r="3.6"/><circle cx="784" cy="822" r="3.6"/><circle cx="803" cy="827" r="3.6"/><circle cx="794" cy="849" r="3.6"/>
<circle cx="847" cy="784" r="3.6"/><circle cx="847" cy="795" r="3.6"/><circle cx="837" cy="797" r="3.6"/><circle cx="847" cy="806" r="3.6"/><circle cx="837" cy="746" r="3.6"/>
</g>
<g fill="#111"><circle cx="825" cy="784" r="3.6"/><circle cx="837" cy="789" r="3.6"/><circle cx="825" cy="793" r="3.6"/><circle cx="830" cy="811" r="3.6"/></g>
<polyline points="794,737 794,728 836,728 836,745" fill="none" stroke="#111" stroke-width="1.1"/>
<text x="815" y="725" font-size="12" font-weight="bold" text-anchor="middle">*</text>
<text x="794" y="877" font-size="13" text-anchor="middle">SD</text>
<text x="836" y="877" font-size="13" text-anchor="middle">HFD</text>

<!-- Legend F -->
<circle cx="785" cy="663" r="5" fill="#fff" stroke="#111" stroke-width="1"/>
<text x="800" y="668" font-size="14">mMM</text>
<circle cx="785" cy="682" r="5" fill="#111"/>
<text x="800" y="687" font-size="14">mSMM</text>

<!-- Vertical watermark -->
<text font-size="10.6" fill="#222" transform="translate(826,177) rotate(90)" textLength="743" lengthAdjust="spacing">Downloaded from http://aacrjournals.org/cancerdiscovery/article-pdf/doi/10.1158/2159-8290.CD-23-1111/3708662/cd-23-1111.pdf by MD Anderson Ca</text>
</svg>
</body></html>
